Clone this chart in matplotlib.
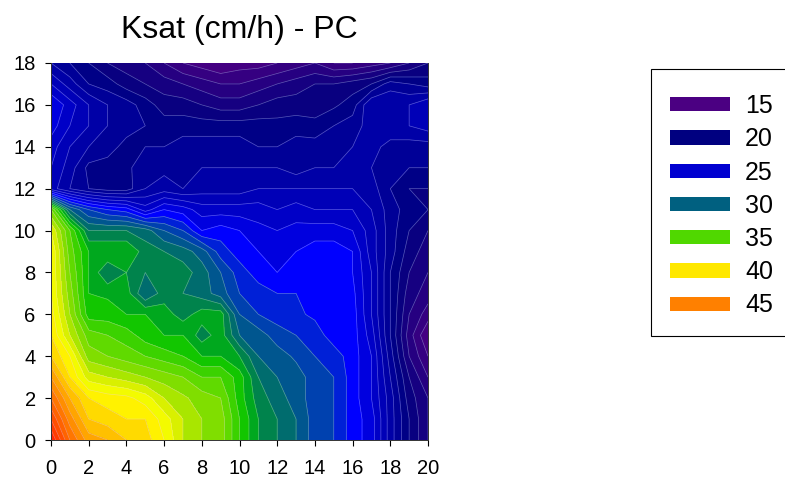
import numpy as np
import matplotlib
matplotlib.use('Agg')
import matplotlib.pyplot as plt
from matplotlib.colors import LinearSegmentedColormap
from matplotlib.patches import Patch, Rectangle

plt.rcParams['font.family'] = ['Liberation Sans', 'DejaVu Sans']

# Ksat, one row per y = 0..18, x = 0..20
x_vals = np.arange(0, 21)
y_vals = np.arange(0, 19)
row00 = [50,46,43.5,43,42,41.5,40,38,37,36.5,34,32,31,30,28.5,28,26.5,25.5,22.5,20,18]
row01 = [48,44.5,42,41.5,41,41,39.5,38,37,36.5,34,32,31,30,28.5,28,26.5,25.5,22.5,20,18]
row02 = [46,43,41,40.5,40.3,39.5,38,37.2,36.5,36,33.5,31.5,30.5,29.5,28.5,28,26.5,25,22.5,19.5,18]
row03 = [44,41,38.5,38,37.5,37,36.5,36,35,35,33.5,31,30,29.5,28.5,28,26.5,25,22,19,17]
row04 = [42,40,36.5,36,35.5,35,34.5,34,33,33,32,30,29.5,28.8,28,27.5,26.5,25,21.5,18,16]
row05 = [41,38,35.5,35,34.5,33.5,33,33,31.5,32.5,30,29.5,28.5,28,27.5,26.5,26.5,24.5,21,17.5,15]
row06 = [40.5,37,33.5,33.5,33,33,32.5,31.5,32.5,32.5,29,28,27.5,27.2,26.8,26.5,26.5,24,21,18,16.5]
row07 = [40,36.5,33,32.8,32.5,30,31.5,31,30.5,29.5,28,27.5,27,27,26.8,26.3,26.3,24,21,18.5,17.5]
row08 = [40,36,33,31,32,31,32,31.5,30.5,29,27.5,26.5,26,26.2,26.5,26.5,26,24,21,19,18]
row09 = [40,35.5,33,33,33,31.5,31,30.5,29.5,27.5,26.5,26,25.5,26,26.5,26.5,26,23.5,21.5,19.5,18.5]
row10 = [39,35,31,31,31,30.5,29,28,26,26.5,26,25.3,25,25.3,25.5,25.5,25,23.5,21.5,20,19]
row11 = [36,30,28,27,26.5,24.5,26,25.5,24.5,24.5,24.5,24.5,24,24.5,24,24,24,23,21.5,20.5,20]
row12 = [23.5,22,21,20.5,20.5,22,22.5,22,22.5,22.5,22.5,23,23,23,23,23,23,22.5,21,20,20]
row13 = [24,22.5,20.7,20.5,20.8,21.5,21.7,22,22,22,22,22,22,21.5,22,22,22.5,22,21.5,21,21]
row14 = [24.5,23,22,21.5,20.6,21,21,21.5,21.5,21.5,21.5,21,21,21.5,21.5,21.5,22,22.5,21.5,21.5,21.5]
row15 = [25.5,24,23,22,21.5,21,20.5,20.5,20.5,20.5,20.5,20.5,20.3,20.5,20.3,21,21.5,22.5,23,23,23.5]
row16 = [26,24.5,23,22,21.5,20.5,19.5,19.5,19,18.5,18.5,19,19.5,19.5,19.5,19.8,20.5,23,23,23,24]
row17 = [24,22.5,21,20.5,19.5,19,18.5,18,17.5,17,17,17.5,18,18.5,19,19,19.5,20,21.5,21,20.5]
row18 = [22,21,20,19,18.5,18,17,16,15.5,15,15.5,15.5,16,16.5,17,16,16,16.5,17,18,19]

z = np.array([row00,row01,row02,row03,row04,row05,row06,row07,row08,row09,
              row10,row11,row12,row13,row14,row15,row16,row17,row18])

legend_values = [15, 20, 25, 30, 35, 40, 45]
legend_colors = ['#4b0082', '#000080', '#0000d0', '#006080', '#50d800', '#ffe800', '#ff8000']

# colour ramp
vmin, vmax = 13, 50
stops = [(13,'#4b0082'),(15,'#4b0082'),(20,'#000080'),(25,'#0000d0'),(26.5,'#0000ff'),
         (28.5,'#0040b0'),(30,'#006080'),(31.5,'#008050'),(33,'#00c000'),(35,'#50d800'),
         (37,'#90e000'),(38.5,'#d8f000'),(40,'#ffff00'),(42,'#ffd000'),(45,'#ff8000'),(50,'#ff2000')]
cmap = LinearSegmentedColormap.from_list('ksat', [((v-vmin)/(vmax-vmin), c) for v, c in stops])

fig = plt.figure(figsize=(7.85, 4.8), dpi=100)
ax = fig.add_axes([51/785, 1-440/480, 377/785, 377/480])

levels = np.arange(13, 51, 1)
ax.contourf(x_vals, y_vals, z, levels=levels, cmap=cmap, vmin=vmin, vmax=vmax)
ax.contour(x_vals, y_vals, z, levels=levels, colors='#ddddff', linewidths=0.5, alpha=0.4)

ax.set_xlim(0, 20)
ax.set_ylim(0, 18)
ax.set_xticks(np.arange(0, 21, 2))
ax.set_yticks(np.arange(0, 19, 2))
ax.tick_params(labelsize=14.5, length=4, width=0.8)
ax.tick_params(axis='x', pad=10)
ax.tick_params(axis='y', pad=7)
for s in ax.spines.values():
    s.set_linewidth(0.7)
    s.set_color('#333333')
ax.spines['top'].set_visible(False)

fig.text(239/785, 1-30/480, 'Ksat (cm/h) - PC', ha='center', va='center', fontsize=23)

# legend box runs off the right side of the figure
fig.patches.append(Rectangle((651/785, 1-336/480), 140/785, 267/480, transform=fig.transFigure,
                             facecolor='white', edgecolor='black', linewidth=0.8, figure=fig))

handles = [Patch(facecolor=c, edgecolor='none') for c in legend_colors]
leg = fig.legend(handles, [str(v) for v in legend_values], loc='upper left',
                 bbox_to_anchor=(670/785, 1-94/480), bbox_transform=fig.transFigure,
                 fontsize=18, frameon=False, borderpad=0, borderaxespad=0,
                 handlelength=2.4, handleheight=0.5,
                 handletextpad=0.6, labelspacing=0.37)

fig.savefig('out.png', dpi=100)
